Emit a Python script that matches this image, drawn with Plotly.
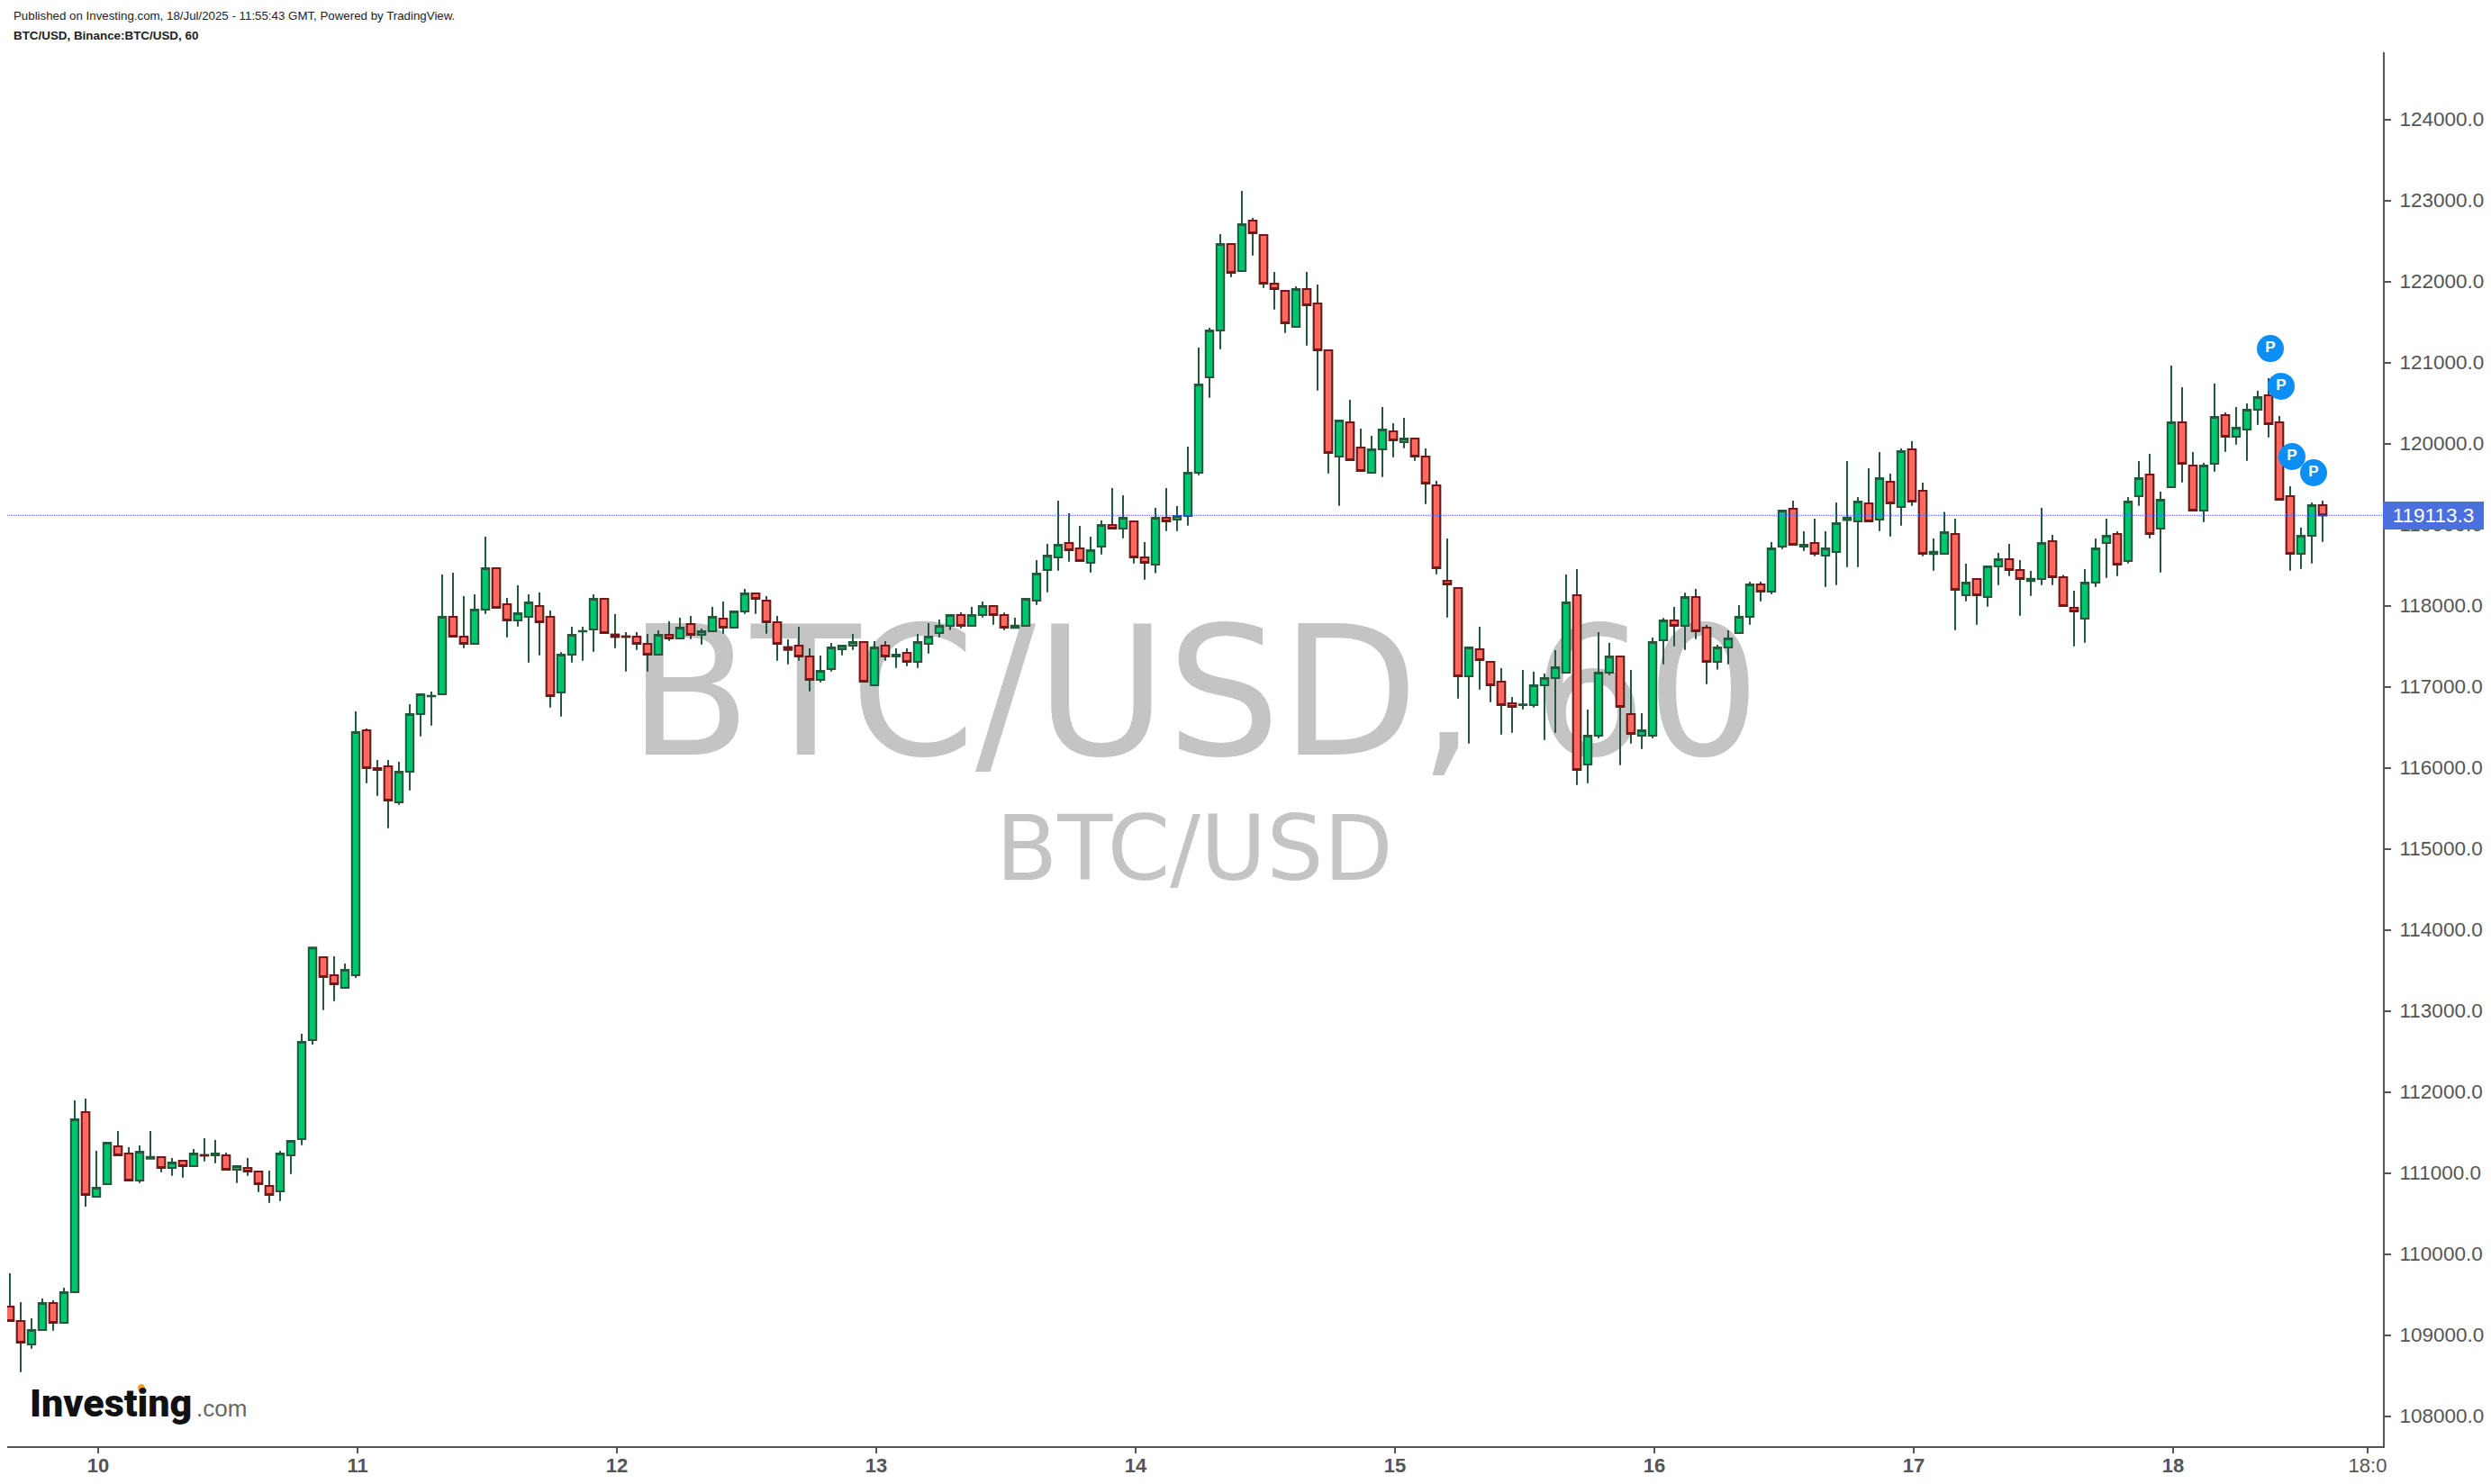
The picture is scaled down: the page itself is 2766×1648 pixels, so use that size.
import pandas as pd
import plotly.graph_objects as go

open_ = [
109350,109172,108883,109061,109394,109150,109527,111750,110705,110861,
111327,111238,110905,111175,111194,111061,111150,111083,111220,111216,
111216,111038,111061,111016,110838,110772,111216,111416,112639,113661,
113439,113283,113439,116461,115995,116017,115572,115950,116661,116880,
116906,117861,117617,117528,117950,118461,118017,117817,117861,117995,
117861,116928,117395,117680,117706,118083,117643,117621,117617,117528,
117395,117639,117595,117772,117639,117684,117839,117728,117928,118150,
118061,117794,117487,117505,117372,117083,117217,117461,117505,117550,
117017,117505,117372,117417,117305,117528,117661,117750,117883,117750,
117883,117994,117883,117724,117750,118061,118439,118594,118772,118706,
118528,118728,118994,118950,119039,118594,118505,119083,119061,119105,
119639,120817,121394,122461,122128,122750,122572,121972,121883,121439,
121905,121728,121150,119839,120261,119950,119639,119928,120150,120017,
120061,119839,119484,118306,118217,117128,117461,117306,117061,116795,
116772,116772,117017,117106,117172,118128,116039,116395,117172,117372,
116661,116395,116395,117573,117817,117750,118106,117728,117306,117484,
117661,117861,118261,118172,118728,119194,118728,118772,118617,118661,
119057,119039,119261,119061,119528,119217,119928,119417,118635,118639,
118883,118128,118328,118106,118483,118572,118439,118302,118328,118794,
118350,117972,117838,118283,118772,118883,118550,119350,119616,118950,
119461,120261,119727,119172,119750,120350,120083,120172,120416,120594,
120261,119350,118638,118861,119238]
high = [
109761,109405,109205,109449,109427,109583,111894,111916,111272,111372,
111516,111316,111338,111516,111194,111183,111150,111294,111427,111405,
111250,111083,111183,111016,111027,111272,111394,112717,113780,113661,
113672,113583,116695,116484,116095,116095,116072,116784,116906,116939,
118384,118406,118117,118139,118850,118461,118095,118250,118139,118161,
117939,117424,117739,117739,118139,118083,117895,117672,117672,117650,
117695,117806,117850,117872,117717,117984,118050,117928,118206,118150,
118117,117872,117583,117739,117472,117383,117539,117505,117650,117550,
117561,117561,117472,117472,117650,117783,117828,117883,117917,117983,
118050,117994,117913,117850,118083,118561,118761,119294,119139,118983,
118850,119050,119450,119361,119039,118783,119205,119450,119228,119961,
121183,121428,122583,122461,123117,122783,122572,122117,121883,121939,
122117,121961,121150,120283,120539,120183,120094,120450,120250,120317,
120061,119939,119539,118828,118217,117484,117739,117306,117228,116872,
117206,117184,117161,117450,118384,118450,116717,117672,117539,117372,
117206,116672,117606,117847,117984,118158,118206,117761,117517,117695,
118006,118294,118294,118783,119172,119294,118917,119072,118917,119272,
119783,119339,119695,119895,119628,119939,120028,119517,118828,119157,
119072,118517,118328,118483,118650,118761,118561,118428,119206,118872,
118379,118183,118450,118827,119072,118916,119338,119783,119872,119405,
120961,120694,119894,119761,120738,120383,120450,120494,120650,120805,
120338,119472,118961,119272,119294]
low = [
109172,108542,108831,109061,109053,109150,109527,110583,110705,110861,
111216,110905,110875,111175,111009,110964,110942,111083,111142,111120,
111038,110875,110964,110764,110631,110653,110987,111342,112583,113009,
113120,113283,113405,115809,115654,115254,115543,115720,116387,116521,
116906,117617,117476,117528,117898,117972,117609,117743,117298,117387,
116743,116632,117298,117321,117432,117661,117476,117187,117454,117187,
117395,117565,117595,117587,117521,117684,117654,117728,117898,117898,
117654,117320,117276,117320,116943,117054,117187,117387,117454,117061,
117017,117320,117231,117254,117231,117409,117609,117698,117720,117750,
117854,117765,117698,117724,117750,118009,118165,118431,118543,118550,
118409,118631,118950,118831,118520,118320,118400,118920,118920,118987,
119609,120565,121165,122054,122128,122320,121920,121654,121365,121439,
121209,120654,119631,119231,119794,119661,119639,119587,119831,119943,
119787,119254,118387,117854,116854,116298,116965,116809,116409,116432,
116721,116743,116343,116432,117172,115787,115809,116365,117143,116032,
116298,116232,116365,117276,117498,117454,117587,117032,117210,117276,
117661,117765,118054,118143,118698,118750,118676,118609,118231,118254,
118476,118476,119039,118920,118854,118987,119231,118609,118432,118639,
117698,118054,117765,117987,118254,118365,117876,118120,118254,118254,
117994,117498,117542,118231,118342,118364,118520,119231,118831,118409,
119461,119520,119172,119031,119653,119898,119987,119787,120231,120075,
119305,118431,118453,118520,118787]
close = [
109172,108905,109061,109394,109150,109527,111661,110727,110816,111372,
111216,110905,111261,111198,111061,111127,111083,111238,111213,111238,
111038,111083,111016,110861,110727,111238,111394,112616,113780,113417,
113328,113505,116439,115995,115972,115595,115950,116661,116906,116887,
117861,117617,117528,117950,118461,117972,117817,117906,118039,117795,
116883,117395,117639,117687,118083,117661,117613,117613,117528,117395,
117639,117595,117728,117639,117684,117861,117728,117928,118150,118083,
117794,117528,117457,117372,117083,117194,117483,117505,117550,117061,
117483,117372,117394,117305,117550,117617,117750,117883,117750,117883,
117994,117883,117728,117754,118083,118394,118617,118750,118683,118550,
118683,118994,118950,119083,118594,118528,119083,119039,119105,119639,
120728,121394,122461,122105,122705,122594,121972,121905,121483,121905,
121705,121150,119883,120283,119794,119661,119928,120172,120039,120061,
119839,119505,118461,118261,117128,117484,117328,117017,116772,116750,
116780,117017,117106,117239,118039,115972,116395,117172,117372,116750,
116417,116461,117550,117817,117750,118106,117684,117306,117484,117595,
117861,118261,118172,118706,119172,118750,118750,118639,118706,119017,
119087,119283,119039,119572,119261,119906,119283,118639,118665,118906,
118194,118283,118128,118483,118572,118439,118328,118331,118772,118350,
117994,117927,118283,118705,118861,118505,119283,119572,118883,119305,
120261,119750,119172,119727,120327,120083,120194,120416,120572,120238,
119305,118638,118861,119238,119113.3]

times = pd.date_range("2025-07-09 16:00", periods=len(close), freq="h")
shift = pd.Timedelta(minutes=10)

day_ticks = ["2025-07-10 00:10", "2025-07-11 00:10", "2025-07-12 00:10", "2025-07-13 00:10",
             "2025-07-14 00:10", "2025-07-15 00:10", "2025-07-16 00:10", "2025-07-17 00:10",
             "2025-07-18 00:10", "2025-07-18 18:10"]
day_labels = ["<b>10</b>", "<b>11</b>", "<b>12</b>", "<b>13</b>", "<b>14</b>", "<b>15</b>",
              "<b>16</b>", "<b>17</b>", "<b>18</b>", "18:0"]
price_ticks = list(range(108000, 125000, 1000))
last_price = 119113.3

marker_index = [209, 210, 211, 213]
marker_values = [121172, 120706, 119839, 119639]

x_range = ["2025-07-09 15:45", "2025-07-18 19:35"]
y_range = [107628, 124828]

GREEN, RED, DKGREEN, DKRED = "#00C76F", "#FF6A60", "#1F5A3C", "#6E1A1A"
AXIS = "#555555"
PAGE = 8  # the page's own body margin
W, H = 2766 - PAGE, 1648 - PAGE
L, R, T, B = 0, 120, 50, 42
px = lambda v: (v - PAGE - L) / (W - L - R)
py = lambda v: (H - B - (v - PAGE)) / (H - T - B)

fig = go.Figure()

# watermark below the candles (main subplot, candles sit on the overlaying axis)
fig.add_trace(go.Scatter(
    x=["2025-07-14 05:36", "2025-07-14 05:36"], y=[116717, 114894], mode="text",
    text=["BTC/USD, 60", "BTC/USD"],
    textfont=dict(family="DejaVu Sans", size=[199, 100], color="#C4C4C4"),
    textposition="middle center", hoverinfo="skip", showlegend=False, xaxis="x", yaxis="y"))

# all candles: dark green wicks
fig.add_trace(go.Candlestick(
    x=times, open=open_, high=high, low=low, close=close, xaxis="x", yaxis="y2",
    increasing=dict(line=dict(color=DKGREEN, width=2), fillcolor=GREEN),
    decreasing=dict(line=dict(color=DKGREEN, width=2), fillcolor=RED),
    showlegend=False))

# falling candles: dark red body outline on top
down = [i for i in range(len(close)) if close[i] < open_[i]]
fig.add_trace(go.Candlestick(
    x=[times[i] for i in down],
    open=[open_[i] for i in down], high=[open_[i] for i in down],
    low=[close[i] for i in down], close=[close[i] for i in down],
    xaxis="x", yaxis="y2",
    increasing=dict(line=dict(color=DKRED, width=2), fillcolor=RED),
    decreasing=dict(line=dict(color=DKRED, width=2), fillcolor=RED),
    showlegend=False))

fig.add_trace(go.Scatter(
    x=[times[i] + shift for i in marker_index], y=marker_values, mode="markers+text",
    marker=dict(size=30, color="#0D8EF5", line=dict(width=0)),
    text=["P"] * 4, textposition="middle center",
    textfont=dict(family="Liberation Sans", size=17, color="white", weight="bold"),
    xaxis="x", yaxis="y2", showlegend=False, hoverinfo="skip"))

fig.add_shape(type="line", xref="paper", x0=0, x1=1, yref="y", y0=last_price, y1=last_price,
              line=dict(color="#3F66EE", width=1, dash="1px,1px"), layer="above")
fig.add_shape(type="circle", xref="paper", yref="paper",
              x0=px(153), x1=px(161), y0=py(1546), y1=py(1537),
              fillcolor="#F7A11A", line=dict(width=0))

def note(text, x, y, size, color, anchor="left", family="Liberation Sans", weight=None):
    fig.add_annotation(text=text, xref="paper", yref="paper", x=px(x), y=py(y), showarrow=False,
                       xanchor=anchor, yanchor="middle",
                       font=dict(family=family, size=size, color=color, weight=weight))

note("Published on Investing.com, 18/Jul/2025 - 11:55:43 GMT, Powered by TradingView.", 13, 17, 13.3, "#222222")
note("<b>BTC/USD, Binance:BTC/USD, 60</b>", 13, 40, 13.4, "#222222")
note("Investing", 31, 1558, 43, "#111111", family="Roboto", weight=900)
note(".com", 216, 1564, 26, "#666666")

fig.add_annotation(text=f"{last_price:.1f}", xref="paper", x=1.0, yref="y", y=last_price, showarrow=False,
                   xanchor="left", yanchor="middle", bgcolor="#4C6FE0", width=112, height=31,
                   font=dict(family="Liberation Sans", size=22.5, color="white"), align="center",
                   borderpad=0, borderwidth=0)

fig.update_layout(
    width=W, height=H, margin=dict(l=L, r=R, t=T, b=B, pad=0),
    paper_bgcolor="white", plot_bgcolor="white", showlegend=False, dragmode=False,
    boxgap=0.3, boxgroupgap=0, boxmode="overlay",
    xaxis=dict(type="date", range=x_range, rangeslider=dict(visible=False), showgrid=False, zeroline=False,
               showline=True, linecolor=AXIS, linewidth=2, ticks="outside", ticklen=6, tickwidth=2,
               tickcolor=AXIS, tickmode="array", tickvals=day_ticks, ticktext=day_labels,
               ticklabelstandoff=-5,
               tickfont=dict(family="Liberation Sans", size=22, color=AXIS)),
    yaxis=dict(range=y_range, side="right", showgrid=False, zeroline=False, showline=True, linecolor=AXIS,
               linewidth=2, ticks="outside", ticklen=7, tickwidth=2, tickcolor=AXIS, tickmode="array",
               tickvals=price_ticks, tickformat=".1f", ticklabelstandoff=5,
               tickfont=dict(family="Liberation Sans", size=22.5, color=AXIS)),
    yaxis2=dict(range=y_range, overlaying="y", side="right", visible=False, showgrid=False, zeroline=False),
)
fig.write_html("out.html")
